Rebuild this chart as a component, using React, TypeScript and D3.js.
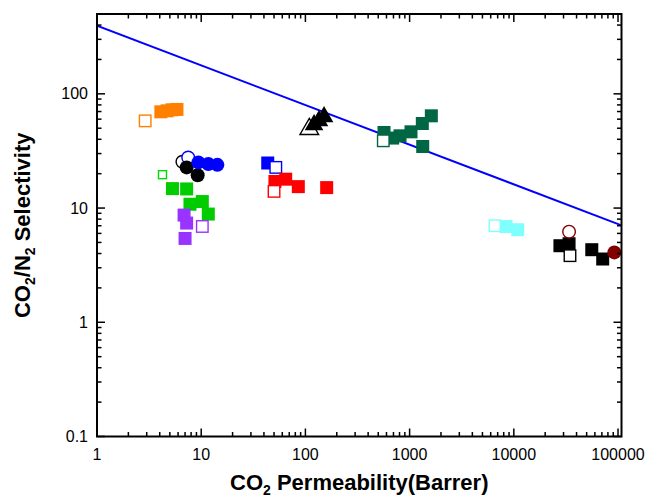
import React from "react";
import * as d3 from "d3";

// CO2 permeability (Barrer) vs CO2/N2 selectivity
const orangeOpen = [[2.9, 58]];
const orangeFilled = [[4.1, 69.6], [4.7, 71], [5.25, 72.5], [5.85, 73]];
const blackCircleOpen = [[6.6, 25.4]];
const blueCircleOpen = [[7.5, 27.7]];
const blackCircleFilled = [[7.25, 22.7], [9.25, 19.4]];
const blueCircleFilled = [[9.4, 25.1], [11.7, 24.3], [14.3, 23.9]];
const greenOpen = [[4.25, 19.6]];
const greenFilled = [[5.3, 14.8], [7.25, 14.7], [7.8, 10.8], [10.25, 11.4], [11.7, 8.86]];
const purpleFilled = [[6.85, 8.68], [7.25, 7.39], [7.0, 5.42]];
const purpleOpen = [[10.25, 6.9]];
const blueSquareFilled = [[43.5, 24.8]];
const blueSquareOpen = [[52, 22.7]];
const redOpen = [[50, 14.0]];
const redFilled = [[51, 17.1], [64.7, 17.9], [85.5, 15.4], [160, 15.1]];
const triangleOpen = [[109, 49.1]];
const triangleFilled = [[121, 53.5], [135, 58.1], [151, 62.9]];
const darkGreenOpen = [[559, 38.8]];
const darkGreenFilled = [[568, 45.9], [688, 41], [809, 42.9], [1031, 46.5], [1324, 55], [1616, 64.2], [1336, 34.6]];
const cyanOpen = [[6600, 7.0]];
const cyanFilled = [[8420, 6.9], [10900, 6.46]];
const darkRedCircleOpen = [[33900, 6.21]];
const blackSquareFilled = [[27700, 4.68], [33900, 4.87], [56000, 4.32], [71300, 3.58]];
const blackSquareOpen = [[34600, 3.83]];
const darkRedCircleFilled = [[92200, 4.09]];

// Robeson upper bound end points
const upperBound = [[1, 395], [108000, 7.05]];

const xTickValues = [1, 10, 100, 1000, 10000, 100000];
const xTickLabels = ["1", "10", "100", "1000", "10000", "100000"];
const yTickValues = [0.1, 1, 10, 100];
const yTickLabels = ["0.1", "1", "10", "100"];

const W = 647;
const H = 499;
const left = 97, right = 621.5, top = 14, bottom = 436.5;
const font = "Arial, 'Liberation Sans', sans-serif";

type Shape = "square" | "circle" | "triangle";
const series: { pts: number[][]; color: string; shape: Shape; filled: boolean; size?: number }[] = [
  { pts: orangeOpen, color: "#ff8000", shape: "square", filled: false },
  { pts: orangeFilled, color: "#ff8000", shape: "square", filled: true },
  { pts: blackCircleOpen, color: "#000000", shape: "circle", filled: false },
  { pts: blueCircleOpen, color: "#0000ff", shape: "circle", filled: false },
  { pts: blackCircleFilled, color: "#000000", shape: "circle", filled: true },
  { pts: blueCircleFilled, color: "#0000ff", shape: "circle", filled: true },
  { pts: greenOpen, color: "#00dd00", shape: "square", filled: false, size: 8 },
  { pts: greenFilled, color: "#00cc00", shape: "square", filled: true },
  { pts: purpleFilled, color: "#9933ff", shape: "square", filled: true },
  { pts: purpleOpen, color: "#9933ff", shape: "square", filled: false },
  { pts: blueSquareFilled, color: "#0000ff", shape: "square", filled: true },
  { pts: blueSquareOpen, color: "#0000ff", shape: "square", filled: false },
  { pts: redFilled, color: "#ff0000", shape: "square", filled: true },
  { pts: redOpen, color: "#ff0000", shape: "square", filled: false },
  { pts: triangleOpen, color: "#000000", shape: "triangle", filled: false },
  { pts: triangleFilled, color: "#000000", shape: "triangle", filled: true },
  { pts: darkGreenFilled, color: "#006644", shape: "square", filled: true },
  { pts: darkGreenOpen, color: "#006644", shape: "square", filled: false },
  { pts: cyanOpen, color: "#80ffff", shape: "square", filled: false },
  { pts: cyanFilled, color: "#80ffff", shape: "square", filled: true },
  { pts: blackSquareFilled, color: "#000000", shape: "square", filled: true },
  { pts: blackSquareOpen, color: "#000000", shape: "square", filled: false },
  { pts: darkRedCircleOpen, color: "#800000", shape: "circle", filled: false },
  { pts: darkRedCircleFilled, color: "#800000", shape: "circle", filled: true },
];

export default function App() {
  const x = d3.scaleLog().domain([1, 108000]).range([left, right]);
  const y = d3.scaleLog().domain([0.1, 500]).range([bottom, top]);

  const minorX: number[] = [];
  for (let p = 1; p <= 100000; p *= 10)
    for (let m = 2; m <= 9; m++) if (m * p <= 108000) minorX.push(m * p);
  const minorY: number[] = [];
  for (let p = 0.1; p <= 100; p *= 10)
    for (let m = 2; m <= 9; m++) if (m * p <= 500) minorY.push(m * p);

  const line = d3.line<number[]>().x(d => x(d[0])).y(d => y(d[1]));
  const tri = d3.symbol(d3.symbolTriangle, 150);

  const marker = (s: typeof series[0], d: number[], i: number) => {
    const cx = x(d[0]), cy = y(d[1]);
    const fill = s.filled ? s.color : "#fff";
    const sw = s.filled ? 0 : 1.4;
    if (s.shape === "square") {
      const sz = s.size ?? (s.filled ? 13 : 11.5);
      return <rect key={i} x={cx - sz / 2} y={cy - sz / 2} width={sz} height={sz} fill={fill} stroke={s.color} strokeWidth={sw} />;
    }
    if (s.shape === "circle") {
      return <circle key={i} cx={cx} cy={cy} r={s.filled ? 7 : 6.3} fill={fill} stroke={s.color} strokeWidth={sw} />;
    }
    return <path key={i} d={tri() as string} transform={`translate(${cx},${cy})`} fill={fill} stroke={s.color} strokeWidth={s.filled ? 0 : 1.4} />;
  };

  return (
    <svg width={W} height={H} style={{ position: "absolute", left: 0, top: 0, background: "#fff" }}>
      <defs>
        <clipPath id="plot">
          <rect x={left} y={top} width={right - left} height={bottom - top} />
        </clipPath>
      </defs>

      {/* upper bound */}
      <path d={line(upperBound) as string} fill="none" stroke="#0000ff" strokeWidth={2} clipPath="url(#plot)" />

      {series.map((s, k) => (
        <g key={k}>{s.pts.map((d, i) => marker(s, d, i))}</g>
      ))}

      {/* ticks, all pointing inwards, mirrored on top and right */}
      <g stroke="#000" strokeWidth={1.5}>
        {xTickValues.map(v => (
          <g key={"xM" + v}>
            <line x1={x(v)} x2={x(v)} y1={bottom} y2={bottom - 8} />
            <line x1={x(v)} x2={x(v)} y1={top} y2={top + 8} />
          </g>
        ))}
        {minorX.map(v => (
          <g key={"xm" + v}>
            <line x1={x(v)} x2={x(v)} y1={bottom} y2={bottom - 4.5} />
            <line x1={x(v)} x2={x(v)} y1={top} y2={top + 4.5} />
          </g>
        ))}
        {yTickValues.map(v => (
          <g key={"yM" + v}>
            <line x1={left} x2={left + 8} y1={y(v)} y2={y(v)} />
            <line x1={right} x2={right - 8} y1={y(v)} y2={y(v)} />
          </g>
        ))}
        {minorY.map(v => (
          <g key={"ym" + v}>
            <line x1={left} x2={left + 4.5} y1={y(v)} y2={y(v)} />
            <line x1={right} x2={right - 4.5} y1={y(v)} y2={y(v)} />
          </g>
        ))}
      </g>
      <rect x={left} y={top} width={right - left} height={bottom - top} fill="none" stroke="#000" strokeWidth={2} />

      {/* tick labels */}
      <g fontFamily={font} fontSize={16} fill="#000">
        {xTickValues.map((v, i) => (
          <text key={v} x={x(v)} y={460} textAnchor="middle">{xTickLabels[i]}</text>
        ))}
        {yTickValues.map((v, i) => (
          <text key={v} x={88} y={y(v)} dy="0.35em" textAnchor="end">{yTickLabels[i]}</text>
        ))}
      </g>

      {/* axis titles */}
      <text x={(left + right) / 2} y={490} textAnchor="middle" fontFamily={font} fontSize={22} fontWeight="bold">
        CO<tspan fontSize={14} dy={5}>2</tspan><tspan dy={-5}> Permeability(Barrer)</tspan>
      </text>
      <text transform={`translate(30,${(top + bottom) / 2}) rotate(-90)`} textAnchor="middle" fontFamily={font} fontSize={22} fontWeight="bold">
        CO<tspan fontSize={14} dy={5}>2</tspan><tspan dy={-5}>/N</tspan><tspan fontSize={14} dy={5}>2</tspan><tspan dy={-5}> Selectivity</tspan>
      </text>
    </svg>
  );
}
